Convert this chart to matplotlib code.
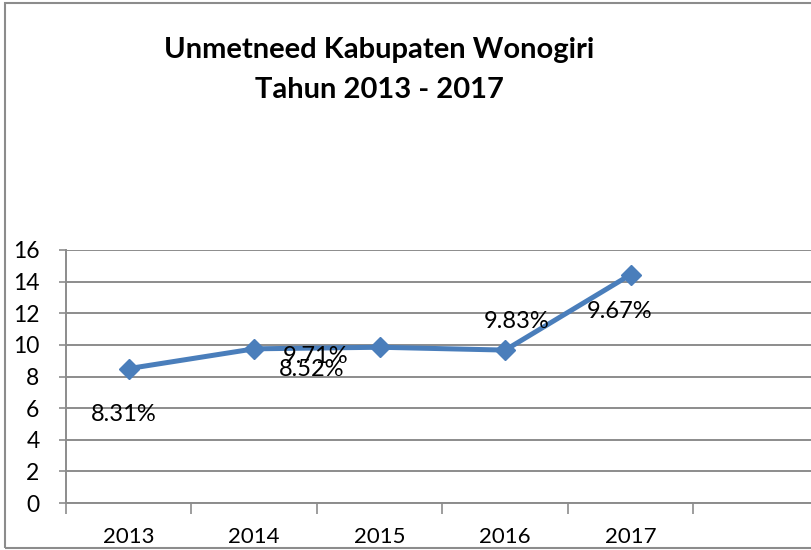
import matplotlib.pyplot as plt
from matplotlib.patches import Rectangle

# data
years = ["2013", "2014", "2015", "2016", "2017"]
values = [8.5, 9.75, 9.85, 9.67, 14.45]
# data labels as they appear (misplaced in the original chart)
label_texts = ["8.31%", "9.71%", "8.52%", "9.83%", "9.67%"]
label_x = [-0.04, 1.49, 1.46, 3.09, 3.91]
label_y = [5.57, 9.24, 8.42, 11.46, 12.09]

plt.rcParams["font.family"] = ["Lato", "DejaVu Sans"]

fig = plt.figure(figsize=(8.12, 5.5), dpi=100)
ax = fig.add_axes([66 / 812, 1 - 503 / 550, 753 / 812, 253 / 550])

grid_c = "#8c8c8c"
line_c = "#4a7ebb"

x = list(range(len(years)))
ax.plot(x, values, color=line_c, linewidth=3.6, marker="D", markersize=10,
        markerfacecolor=line_c, markeredgecolor=line_c, zorder=3)

for t, lx, ly in zip(label_texts, label_x, label_y):
    ax.text(lx, ly, t, ha="center", va="center", fontsize=17, color="black", zorder=4)

ax.set_xlim(-0.5, 5.5)
ax.set_ylim(0, 16)
ax.set_yticks(range(0, 17, 2))
ax.yaxis.grid(True, color=grid_c, linewidth=1.4)
ax.set_axisbelow(True)

# category boundaries as ticks, labels in between
ax.set_xticks([i - 0.5 for i in range(7)])
ax.set_xticklabels([])
ax.set_xticks(x, minor=True)
ax.set_xticklabels(years, minor=True)
ax.tick_params(axis="x", which="major", length=8, width=1.2, color=grid_c)
ax.tick_params(axis="x", which="minor", length=0, pad=17, labelsize=16)
ax.tick_params(axis="y", length=5, width=1.2, color=grid_c, pad=14, labelsize=16.5)

for s in ["top", "right"]:
    ax.spines[s].set_visible(False)
for s in ["left", "bottom"]:
    ax.spines[s].set_color(grid_c)
    ax.spines[s].set_linewidth(1.4)

fig.text(379 / 812, 1 - 50 / 550, "Unmetneed Kabupaten Wonogiri", ha="center", va="center",
         fontsize=21, fontweight="bold")
fig.text(379 / 812, 1 - 90 / 550, "Tahun 2013 - 2017", ha="center", va="center",
         fontsize=21, fontweight="bold")

# chart frame
fig.patches.append(Rectangle((5 / 812, 2 / 550), 1.0, 545 / 550, transform=fig.transFigure,
                             fill=False, edgecolor="#8c8c8c", linewidth=1.5))

fig.savefig("out.png", dpi=100)
